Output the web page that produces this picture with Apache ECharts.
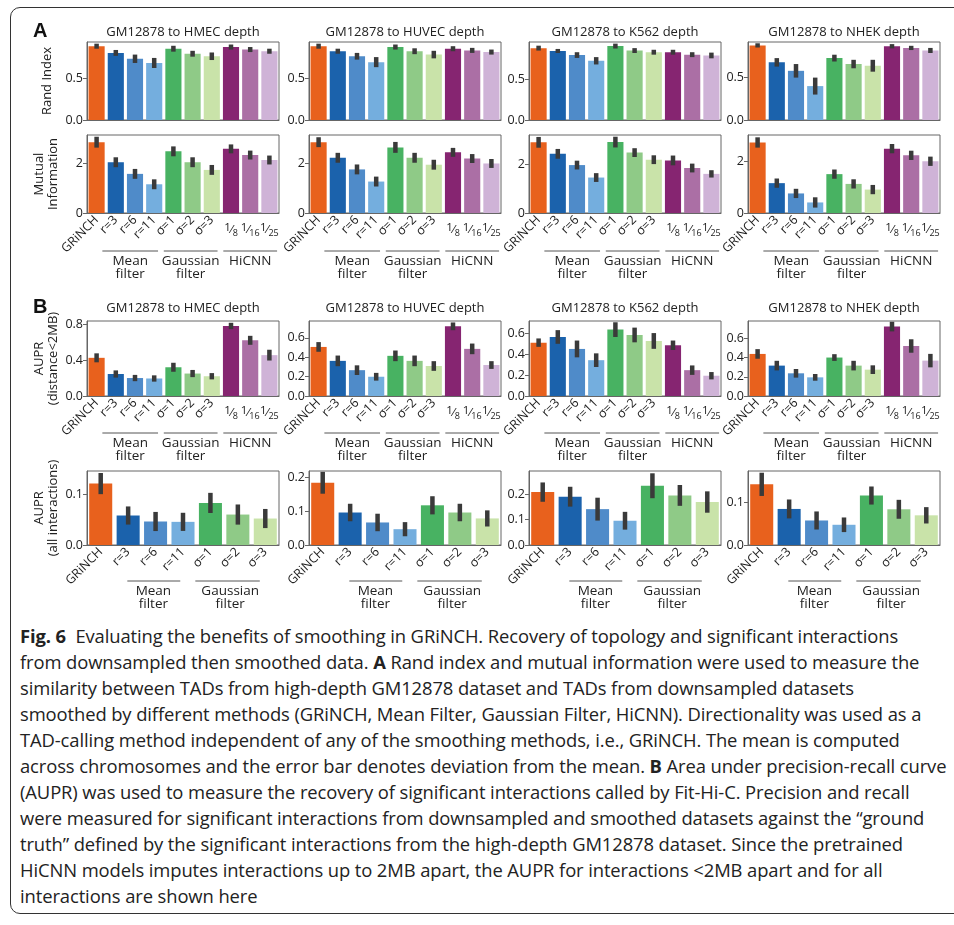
<!DOCTYPE html>
<html>
<head>
<meta charset="utf-8">
<script src="https://cdn.jsdelivr.net/npm/echarts@6/dist/echarts.min.js"></script>
<style>
html, body { margin: 0; padding: 0; background: #fff; overflow: hidden; }
#wrap { position: relative; width: 954px; height: 925px; }
#frame { position: absolute; left: 10px; top: 7px; width: 1000px; height: 907px;
  border: 1.4px solid #333; border-radius: 10px; box-sizing: border-box; }
#chart { position: absolute; left: 0; top: 0; width: 954px; height: 620px; }
#caption { position: absolute; left: 20px; top: 623px; font-family: 'Open Sans', sans-serif;
  font-size: 18.4px; line-height: 26px; color: #222; white-space: nowrap; letter-spacing: -0.1px; }
#caption b { font-weight: 700; }
</style>
</head>
<body>
<div id="wrap">
  <div id="frame"></div>
  <div id="chart"></div>
  <div id="caption">
    <b>Fig. 6</b>&nbsp; Evaluating the benefits of smoothing in GRiNCH. Recovery of topology and significant interactions<br>
    from downsampled then smoothed data. <b>A</b> Rand index and mutual information were used to measure the<br>
    similarity between TADs from high-depth GM12878 dataset and TADs from downsampled datasets<br>
    smoothed by different methods (GRiNCH, Mean Filter, Gaussian Filter, HiCNN). Directionality was used as a<br>
    TAD-calling method independent of any of the smoothing methods, i.e., GRiNCH. The mean is computed<br>
    across chromosomes and the error bar denotes deviation from the mean. <b>B</b> Area under precision-recall curve<br>
    (AUPR) was used to measure the recovery of significant interactions called by Fit-Hi-C. Precision and recall<br>
    were measured for significant interactions from downsampled and smoothed datasets against the “ground<br>
    truth” defined by the significant interactions from the high-depth GM12878 dataset. Since the pretrained<br>
    HiCNN models imputes interactions up to 2MB apart, the AUPR for interactions &lt;2MB apart and for all<br>
    interactions are shown here
  </div>
</div>
<script>
// panel titles and categories
const titles = ['GM12878 to HMEC depth', 'GM12878 to HUVEC depth', 'GM12878 to K562 depth', 'GM12878 to NHEK depth'];
const catsFull = ['GRiNCH', 'r=3', 'r=6', 'r=11', 'σ=1', 'σ=2', 'σ=3', '1/8', '1/16', '1/25'];
const catsNoHiCNN = catsFull.slice(0, 7);
const hicnnCats = ['1/8', '1/16', '1/25'];

// A: Rand index (mean, half error)
const randIndex = [
  [0.88, 0.80, 0.73, 0.68, 0.85, 0.79, 0.76, 0.87, 0.84, 0.82],
  [0.88, 0.82, 0.76, 0.69, 0.87, 0.82, 0.78, 0.85, 0.83, 0.81],
  [0.88, 0.845, 0.795, 0.725, 0.905, 0.85, 0.83, 0.83, 0.80, 0.79],
  [0.88, 0.68, 0.58, 0.40, 0.73, 0.66, 0.64, 0.87, 0.85, 0.82]
];
const randIndexErr = [
  [0.03, 0.035, 0.05, 0.06, 0.035, 0.035, 0.045, 0.03, 0.03, 0.03],
  [0.03, 0.03, 0.04, 0.06, 0.03, 0.035, 0.045, 0.03, 0.03, 0.03],
  [0.03, 0.025, 0.035, 0.045, 0.03, 0.03, 0.03, 0.03, 0.03, 0.035],
  [0.025, 0.05, 0.08, 0.10, 0.04, 0.05, 0.07, 0.025, 0.025, 0.03]
];

// A: mutual information
const mutualInfo = [
  [2.86, 2.05, 1.58, 1.16, 2.49, 2.05, 1.74, 2.59, 2.34, 2.14],
  [2.86, 2.23, 1.76, 1.27, 2.65, 2.23, 1.95, 2.45, 2.20, 2.00],
  [2.89, 2.42, 1.96, 1.45, 2.90, 2.47, 2.18, 2.15, 1.84, 1.60],
  [2.74, 1.16, 0.76, 0.41, 1.51, 1.13, 0.91, 2.50, 2.24, 2.01]
];
const mutualInfoErr = [
  [0.22, 0.2, 0.2, 0.2, 0.2, 0.2, 0.2, 0.18, 0.18, 0.18],
  [0.2, 0.2, 0.2, 0.2, 0.22, 0.2, 0.2, 0.18, 0.18, 0.18],
  [0.22, 0.2, 0.18, 0.18, 0.22, 0.18, 0.18, 0.2, 0.18, 0.15],
  [0.2, 0.18, 0.18, 0.2, 0.18, 0.18, 0.18, 0.18, 0.18, 0.18]
];

// B: AUPR (distance < 2MB)
const auprShort = [
  [0.425, 0.245, 0.20, 0.195, 0.32, 0.25, 0.22, 0.78, 0.62, 0.455],
  [0.507, 0.363, 0.267, 0.199, 0.415, 0.363, 0.31, 0.72, 0.487, 0.32],
  [0.508, 0.562, 0.448, 0.341, 0.632, 0.581, 0.524, 0.483, 0.246, 0.193],
  [0.4375, 0.316, 0.236, 0.194, 0.40, 0.316, 0.274, 0.722, 0.52, 0.368]
];
const auprShortErr = [
  [0.05, 0.04, 0.035, 0.035, 0.05, 0.04, 0.035, 0.035, 0.05, 0.06],
  [0.05, 0.055, 0.05, 0.04, 0.055, 0.055, 0.05, 0.04, 0.055, 0.04],
  [0.04, 0.065, 0.08, 0.065, 0.07, 0.07, 0.075, 0.045, 0.045, 0.035],
  [0.05, 0.05, 0.045, 0.035, 0.035, 0.05, 0.045, 0.05, 0.07, 0.07]
];

// B: AUPR (all interactions)
const auprAll = [
  [0.122, 0.0586, 0.0467, 0.046, 0.0836, 0.0605, 0.0526],
  [0.185, 0.0966, 0.067, 0.047, 0.118, 0.0966, 0.079],
  [0.208, 0.19, 0.141, 0.0954, 0.233, 0.195, 0.169],
  [0.141, 0.0838, 0.057, 0.047, 0.115, 0.083, 0.069]
];
const auprAllErr = [
  [0.021, 0.018, 0.019, 0.018, 0.02, 0.02, 0.019],
  [0.0325, 0.026, 0.026, 0.021, 0.027, 0.026, 0.024],
  [0.038, 0.039, 0.045, 0.035, 0.049, 0.041, 0.042],
  [0.027, 0.022, 0.021, 0.017, 0.021, 0.022, 0.019]
];

// axis limits and tick labels
const randMax = [0.93, 0.93, 0.955, 0.92];
const randTicks = [0, 0.5];
const miMax = [3.15, 3.15, 3.19, 3.03];
const miTicks = [0, 2];
const auprShortMax = [0.835, 0.775, 0.714, 0.78];
const auprShortTicks = [[0, 0.4, 0.8], [0, 0.2, 0.4, 0.6], [0, 0.2, 0.4, 0.6], [0, 0.2, 0.4, 0.6]];
const auprAllMax = [0.147, 0.22, 0.291, 0.172];
const auprAllTicks = [[0, 0.1], [0, 0.1, 0.2], [0, 0.1, 0.2], [0, 0.1]];

const barColors = ['#e8611d', '#1b62ac', '#4f8bc9', '#74aede', '#48b262', '#8fca87', '#c9e3a9',
  '#862571', '#ab6fa5', '#cfb3d7'];

const FONT = 'Open Sans';
const AXIS_COLOR = '#666';
const TEXT_COLOR = '#222';
const colLeft = [87, 309, 529, 748];
const colWidth = 192;

const rows = [
  { top: 42, height: 78, values: randIndex, errs: randIndexErr, cats: catsFull, max: randMax,
    ticks: () => randTicks, digits: 1, name: 'Rand Index', nameGap: 33, labels: false },
  { top: 135, height: 78, values: mutualInfo, errs: mutualInfoErr, cats: catsFull, max: miMax,
    ticks: () => miTicks, digits: 0, name: 'Mutual\nInformation', nameGap: 27, labels: true, groupY: 38 },
  { top: 321, height: 75, values: auprShort, errs: auprShortErr, cats: catsFull, max: auprShortMax,
    ticks: c => auprShortTicks[c], digits: 1, name: 'AUPR\n(distance<2MB)', nameGap: 27, labels: true, groupY: 37 },
  { top: 471, height: 74, values: auprAll, errs: auprAllErr, cats: catsNoHiCNN, max: auprAllMax,
    ticks: c => auprAllTicks[c], digits: 1, name: 'AUPR\n(all interactions)', nameGap: 27, labels: true, groupY: 36 }
];

// group brackets under the tick labels, in category units
const groupsFull = [
  { text: 'Mean\nfilter', from: 0.3, to: 3.2, center: 1.75 },
  { text: 'Gaussian\nfilter', from: 3.5, to: 6.3, center: 4.9 },
  { text: 'HiCNN', from: 6.6, to: 9.4, center: 8.0 }
];
const groupsShort = [
  { text: 'Mean\nfilter', from: 0.97, to: 2.9, center: 1.92 },
  { text: 'Gaussian\nfilter', from: 3.45, to: 5.8, center: 4.72 }
];

const fracRich = {
  n: { fontSize: 11.5, lineHeight: 11, verticalAlign: 'top', fontFamily: FONT, color: TEXT_COLOR },
  s: { fontSize: 11, lineHeight: 16, verticalAlign: 'middle', fontFamily: 'DejaVu Sans', color: TEXT_COLOR },
  d: { fontSize: 9, lineHeight: 9, verticalAlign: 'bottom', fontFamily: FONT, color: TEXT_COLOR }
};

function renderErr(params, api) {
  const i = api.value(0);
  const lo = api.coord([i, api.value(1)]);
  const hi = api.coord([i, api.value(2)]);
  return {
    type: 'rect',
    shape: { x: lo[0] - 2.25, y: hi[1], width: 4.5, height: lo[1] - hi[1] },
    style: { fill: '#3a3a3a' }
  };
}

const grid = [], xAxis = [], yAxis = [], series = [], graphic = [];
const mainAxisIndex = [];

rows.forEach((row, r) => {
  for (let c = 0; c < 4; c++) {
    const g = grid.length;
    grid.push({ left: colLeft[c], top: row.top, width: colWidth, height: row.height,
      show: true, borderColor: AXIS_COLOR, borderWidth: 1, containLabel: false });
    const hasHiCNN = row.cats.length === 10;
    mainAxisIndex.push({ grid: g, axis: xAxis.length, row: r, col: c });
    xAxis.push({
      type: 'category', gridIndex: g, data: row.cats, position: 'bottom',
      axisLine: { lineStyle: { color: AXIS_COLOR, width: 1 } },
      axisTick: { alignWithLabel: true, length: 4, lineStyle: { color: AXIS_COLOR } },
      axisLabel: {
        show: row.labels, interval: 0, rotate: 45, margin: 5, fontSize: 12.5,
        fontFamily: FONT, color: TEXT_COLOR,
        formatter: v => (hicnnCats.includes(v) ? '' : v)
      }
    });
    if (hasHiCNN && row.labels) {
      xAxis.push({
        type: 'category', gridIndex: g, data: row.cats, position: 'bottom', offset: 0,
        axisLine: { show: false }, axisTick: { show: false },
        axisLabel: {
          interval: 0, rotate: 0, margin: 9, rich: fracRich,
          formatter: v => {
            if (!hicnnCats.includes(v)) return '';
            const p = v.split('/');
            return '{n|' + p[0] + '}{s|⁄}{d|' + p[1] + '}';
          }
        }
      });
    }
    const ticks = row.ticks(c);
    yAxis.push({
      type: 'value', gridIndex: g, min: 0, max: row.max[c],
      splitLine: { show: false },
      axisLine: { show: true, lineStyle: { color: AXIS_COLOR, width: 1 } },
      axisTick: { show: true, length: 4, customValues: ticks, lineStyle: { color: AXIS_COLOR } },
      axisLabel: { customValues: ticks, fontSize: 12.5, fontFamily: FONT, color: TEXT_COLOR, margin: 4,
        formatter: v => v.toFixed(row.digits) },
      name: c === 0 ? row.name : '', nameLocation: 'middle', nameGap: row.nameGap, nameRotate: 90,
      nameTextStyle: { fontSize: 13, fontFamily: FONT, color: TEXT_COLOR, lineHeight: 14 }
    });
    const xi = mainAxisIndex[mainAxisIndex.length - 1].axis;
    series.push({
      type: 'bar', xAxisIndex: xi, yAxisIndex: g, barCategoryGap: '16%',
      data: row.values[c].map((v, i) => ({ value: v, itemStyle: { color: barColors[i] } })),
      silent: true
    });
    series.push({
      type: 'custom', xAxisIndex: xi, yAxisIndex: g, renderItem: renderErr, silent: true, z: 3,
      encode: { x: 0, y: [1, 2] },
      data: row.values[c].map((v, i) => [i, v - row.errs[c][i], v + row.errs[c][i]])
    });
  }
});

// titles and panel letters
[{ y: 32, letter: 'A' }, { y: 308, letter: 'B' }].forEach(p => {
  graphic.push({ type: 'text', left: 33, top: p.y - 11,
    style: { text: p.letter, font: 'bold 20px "Liberation Sans"', fill: '#111' } });
  titles.forEach((t, c) => {
    graphic.push({ type: 'text', x: colLeft[c] + colWidth / 2, y: p.y,
      style: { text: t, font: '13px "' + FONT + '"', fill: TEXT_COLOR, align: 'center', verticalAlign: 'middle' } });
  });
});

const chart = echarts.init(document.getElementById('chart'));
chart.setOption({ animation: false, grid, xAxis, yAxis, series, graphic });

// group brackets positioned through the x axis scale
mainAxisIndex.forEach(m => {
  const row = rows[m.row];
  if (!row.labels) return;
  const groups = row.cats.length === 10 ? groupsFull : groupsShort;
  const p0 = chart.convertToPixel({ xAxisIndex: m.axis }, row.cats[0]);
  const p1 = chart.convertToPixel({ xAxisIndex: m.axis }, row.cats[1]);
  const step = p1 - p0;
  const yLine = row.top + row.height + row.groupY;
  groups.forEach(gr => {
    graphic.push({ type: 'line', shape: { x1: p0 + gr.from * step, y1: yLine, x2: p0 + gr.to * step, y2: yLine },
      style: { stroke: '#555', lineWidth: 1 } });
    graphic.push({ type: 'text', x: p0 + gr.center * step, y: yLine + 4,
      style: { text: gr.text, font: '13.5px "' + FONT + '"', fill: TEXT_COLOR, align: 'center',
        verticalAlign: 'top', lineHeight: 13 } });
  });
});
chart.setOption({ graphic });
</script>
</body>
</html>
